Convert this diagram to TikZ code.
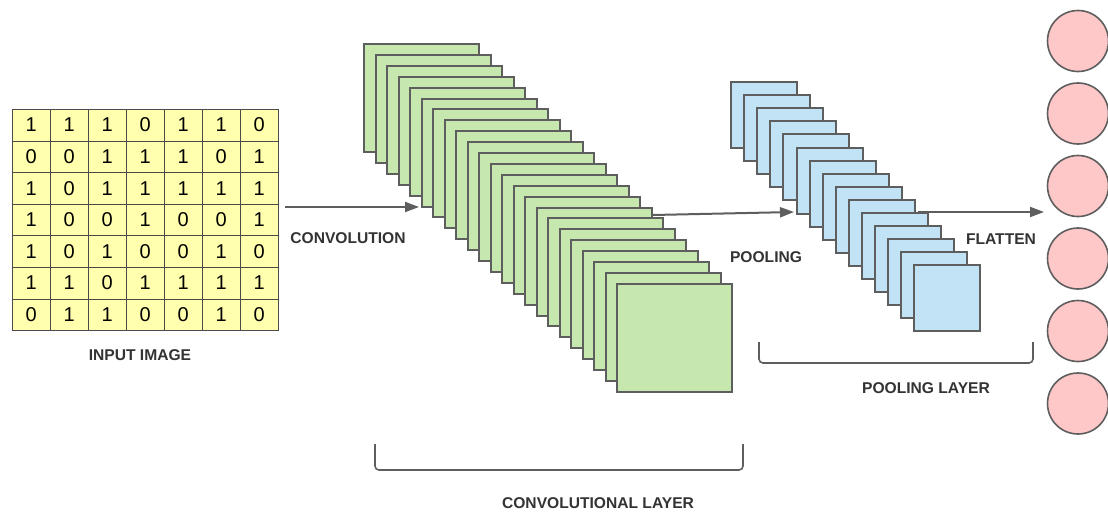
\documentclass[tikz,border=0pt]{standalone}
\usepackage{fontspec}
\setmainfont{Liberation Sans}
\usepackage{tikz}
\usetikzlibrary{arrows.meta}
\usepackage{xcolor}
\definecolor{edgegray}{HTML}{5E5E5E}
\definecolor{textgray}{HTML}{333333}
\definecolor{inputyellow}{HTML}{FFFFAD}
\definecolor{convgreen}{HTML}{C6E8AE}
\definecolor{poolblue}{HTML}{C2E3F5}
\definecolor{densepink}{HTML}{FFC8C8}
\tikzstyle{cell}=[draw=edgegray!80!black, line width=0.6pt, fill=inputyellow, anchor=north west, minimum width=38pt, minimum height=31.6pt, inner sep=0pt, font=\fontsize{20}{24}\selectfont, text=black]
\tikzstyle{convmap}=[draw=edgegray, line width=2pt, fill=convgreen, anchor=north west, minimum width=115pt, minimum height=108pt, inner sep=0pt]
\tikzstyle{poolmap}=[draw=edgegray, line width=2pt, fill=poolblue, anchor=north west, minimum width=66pt, minimum height=66pt, inner sep=0pt]
\tikzstyle{neuron}=[circle, draw=edgegray, line width=1.6pt, fill=densepink, minimum size=61pt, inner sep=0pt]
\tikzstyle{caption}=[text=textgray, font=\bfseries\fontsize{15.6}{18}\selectfont, inner sep=0pt]
\tikzstyle{flow}=[draw=edgegray, line width=2pt, -{Triangle[length=14pt,width=10pt]}]
\tikzstyle{brace}=[draw=edgegray, line width=1.6pt, rounded corners=4pt]

\begin{document}
\begin{tikzpicture}[x=1pt,y=-1pt]
	\useasboundingbox[fill=white] (0,0) rectangle (1108,514);
	% input image
	\foreach \row [count=\r from 0] in {{1,1,1,0,1,1,0},{0,0,1,1,1,0,1},{1,0,1,1,1,1,1},{1,0,0,1,0,0,1},{1,0,1,0,0,1,0},{1,1,0,1,1,1,1},{0,1,1,0,0,1,0}}{
		\foreach \v [count=\c from 0] in \row {
			\node[cell] (cell-\r-\c) at ({12+38*\c},{109+31.6*\r}) {\v};
		}
	}
	\node[caption] (inputlabel) at (140,355) {INPUT IMAGE};
	% convolutional layer
	\foreach \i in {0,...,22}{
		\node[convmap] (conv\i) at ({363+11.5*\i},{43+10.9*\i}) {};
	}
	% pooling layer
	\foreach \i in {0,...,14}{
		\node[poolmap] (pool\i) at ({730+13.1*\i},{81+13.1*\i}) {};
	}
	% dense
	\foreach \i in {0,...,5}{
		\node[neuron] (out\i) at (1078,{41+72.5*\i}) {};
	}
	% arrows
	\coordinate (convstart) at (285,207);
	\coordinate (convend) at (419,207);
	\coordinate (poolstart) at (653,215);
	\coordinate (poolend) at (794,212);
	\coordinate (flatstart) at (918,212);
	\coordinate (flatend) at (1044,212);
	\draw[flow] (convstart) -- (convend);
	\draw[flow] (poolstart) -- (poolend);
	\draw[flow] (flatstart) -- (flatend);
	\node[caption] (convlabel) at (348,238) {CONVOLUTION};
	\node[caption] (poollabel) at (766,257) {POOLING};
	\node[caption] (flatlabel) at (1001,239) {FLATTEN};
	% brackets
	\draw[brace] (375,444) -- (375,470) -- (743,470) -- (743,444);
	\node[caption] (convlayer) at (598,503) {CONVOLUTIONAL LAYER};
	\draw[brace] (759,342) -- (759,363) -- (1033,363) -- (1033,342);
	\node[caption] (poollayer) at (926,388) {POOLING LAYER};
\end{tikzpicture}
\end{document}
